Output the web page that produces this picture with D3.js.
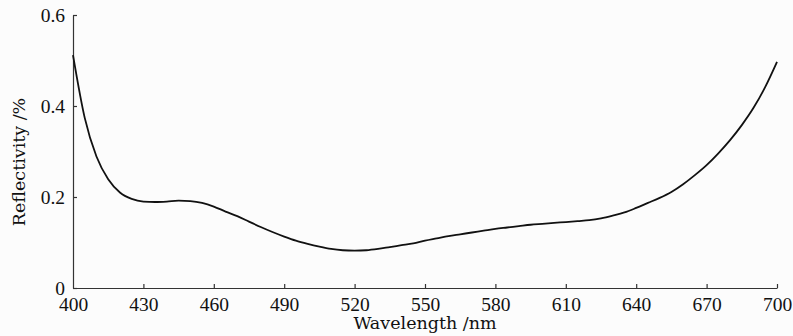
<!DOCTYPE html>
<html>
<head>
<meta charset="utf-8">
<script src="https://cdn.jsdelivr.net/npm/d3@7"></script>
<style>
  html, body { margin: 0; padding: 0; background: #fcfcfc; }
  svg { display: block; }
</style>
</head>
<body>
<svg width="793" height="336"></svg>
<script>
// wavelength (nm) and reflectivity
const wavelength = [400, 405, 410, 415, 420, 425, 430, 435, 440, 445, 450, 455, 460, 465, 470,
  475, 480, 485, 490, 495, 500, 505, 510, 515, 520, 525, 530, 535, 540, 545, 550, 555, 560, 565,
  570, 575, 580, 585, 590, 595, 600, 605, 610, 615, 620, 625, 630, 635, 640, 645, 650, 655, 660,
  665, 670, 675, 680, 685, 690, 695, 700];
const reflectivity = [0.512, 0.374, 0.289, 0.239, 0.210, 0.196, 0.190, 0.189, 0.190, 0.192,
  0.191, 0.187, 0.179, 0.168, 0.158, 0.146, 0.134, 0.123, 0.113, 0.104, 0.097, 0.091, 0.086, 0.083,
  0.082, 0.083, 0.086, 0.090, 0.094, 0.098, 0.104, 0.109, 0.114, 0.118, 0.122, 0.126, 0.130, 0.133,
  0.136, 0.139, 0.141, 0.143, 0.145, 0.147, 0.149, 0.153, 0.159, 0.166, 0.176, 0.187, 0.198, 0.211,
  0.228, 0.248, 0.270, 0.296, 0.325, 0.358, 0.396, 0.442, 0.497];

const xTicks = [400, 430, 460, 490, 520, 550, 580, 610, 640, 670, 700];
const yTicks = [0, 0.2, 0.4, 0.6];

const svg = d3.select("svg");

let x = d3.scaleLinear().domain([400, 700]).range([73, 777]);
let y = d3.scaleLinear().domain([0, 0.6]).range([288, 15]);

// x axis, ticks pointing up
let xAxis = d3.axisBottom(x)
  .tickValues(xTicks)
  .tickSize(-4)
  .tickSizeOuter(0)
  .tickPadding(8)
  .tickFormat(d3.format("d"));

let gx = svg.append("g")
  .attr("transform", "translate(0,288)")
  .call(xAxis);
gx.selectAll(".tick line").filter(d => d === 400).remove();

// y axis, ticks pointing right
let yAxis = d3.axisLeft(y)
  .tickValues(yTicks)
  .tickSize(-4)
  .tickSizeOuter(0)
  .tickPadding(8)
  .tickFormat(d => d === 0 ? "0" : d3.format(".1f")(d));

let gy = svg.append("g")
  .attr("transform", "translate(73,0)")
  .call(yAxis);

svg.selectAll(".domain").attr("stroke", "#333").attr("stroke-width", 1.2);
svg.selectAll(".tick line").attr("stroke", "#333").attr("stroke-width", 1.2);
svg.selectAll(".tick text")
  .style("font-family", "'Liberation Serif', serif")
  .style("font-size", "19.5px")
  .attr("fill", "#111");
gx.selectAll(".tick text").attr("dy", "0.66em").attr("y", 10);

// axis titles
svg.append("text")
  .attr("x", 425)
  .attr("y", 329)
  .attr("text-anchor", "middle")
  .style("font-family", "'DejaVu Serif', serif")
  .style("font-size", "17.5px")
  .attr("fill", "#111")
  .text("Wavelength /nm");

svg.append("text")
  .attr("transform", "translate(25,162) rotate(-90)")
  .attr("text-anchor", "middle")
  .style("font-family", "'DejaVu Serif', serif")
  .style("font-size", "17.5px")
  .attr("fill", "#111")
  .text("Reflectivity /%");

// curve
const data = wavelength.map((w, i) => ({ x: w, y: reflectivity[i] }));
let line = d3.line()
  .x(d => x(d.x))
  .y(d => y(d.y))
  .curve(d3.curveMonotoneX);

svg.append("path")
  .datum(data)
  .attr("fill", "none")
  .attr("stroke", "#111")
  .attr("stroke-width", 1.8)
  .attr("d", line);
</script>
</body>
</html>
